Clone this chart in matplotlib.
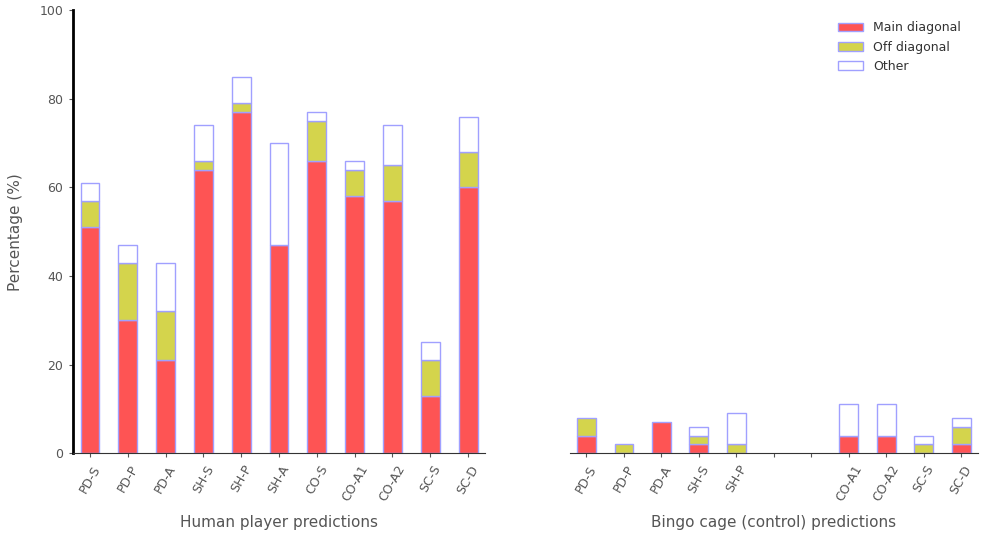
import numpy as np
import matplotlib.pyplot as plt

labels_h = ["PD-S", "PD-P", "PD-A", "SH-S", "SH-P", "SH-A", "CO-S", "CO-A1", "CO-A2", "SC-S", "SC-D"]
main_h = [51, 30, 21, 64, 77, 47, 66, 58, 57, 13, 60]
off_h = [6, 13, 11, 2, 2, 0, 9, 6, 8, 8, 8]
other_h = [4, 4, 11, 8, 6, 23, 2, 2, 9, 4, 8]

labels_b = ["PD-S", "PD-P", "PD-A", "SH-S", "SH-P", "", "", "CO-A1", "CO-A2", "SC-S", "SC-D"]
main_b = [4, 0, 7, 2, 0, 0, 0, 4, 4, 0, 2]
off_b = [4, 2, 0, 2, 2, 0, 0, 0, 0, 2, 4]
other_b = [0, 0, 0, 2, 7, 0, 0, 7, 7, 2, 2]

c_main = "#fe5454"
c_off = "#d4d44c"
c_edge = "#a0a0ff"
txt = "#555555"

fig = plt.figure(figsize=(9.82, 5.37), dpi=100)
ax1 = fig.add_axes([0.0743, 0.156, 0.4197, 0.825])
ax2 = fig.add_axes([0.580, 0.156, 0.416, 0.825])


def stack(ax, main, off, other, labels):
    x = np.arange(len(labels))
    main = np.array(main)
    off = np.array(off)
    other = np.array(other)
    # no outline for empty segments
    lw = lambda v: np.where(v > 0, 1.0, 0.0)
    ax.bar(x, main, 0.5, color=c_main, edgecolor=c_edge, linewidth=lw(main), label="Main diagonal")
    ax.bar(x, off, 0.5, bottom=main, color=c_off, edgecolor=c_edge, linewidth=lw(off), label="Off diagonal")
    ax.bar(x, other, 0.5, bottom=main + off, color="white", edgecolor=c_edge, linewidth=lw(other), label="Other")
    ax.set_xticks(x)
    ax.set_xticklabels(labels, rotation=60, fontsize=9, color=txt)
    ax.set_xlim(-0.45, 10.45)
    ax.set_ylim(0, 100)
    ax.spines["top"].set_visible(False)
    ax.spines["right"].set_visible(False)
    ax.spines["bottom"].set_color("#333333")
    ax.tick_params(axis="both", colors=txt, length=3, labelsize=9, pad=4)
    ax.xaxis.labelpad = 8


stack(ax1, main_h, off_h, other_h, labels_h)
stack(ax2, main_b, off_b, other_b, labels_b)

ax1.spines["left"].set_linewidth(2)
ax1.spines["left"].set_color("black")
ax1.set_yticks([0, 20, 40, 60, 80, 100])
ax1.set_ylabel("Percentage (%)", fontsize=11, color=txt, labelpad=12)
ax1.set_xlabel("Human player predictions", fontsize=11, color=txt)

ax2.spines["left"].set_visible(False)
ax2.set_yticks([])
ax2.set_xlabel("Bingo cage (control) predictions", fontsize=11, color=txt)
leg = ax2.legend(loc="upper right", frameon=False, fontsize=9, bbox_to_anchor=(0.985, 1.0))
for t in leg.get_texts():
    t.set_color("#333333")
for h in leg.legend_handles:
    h.set_linewidth(1.0)

fig.savefig("out.png")
